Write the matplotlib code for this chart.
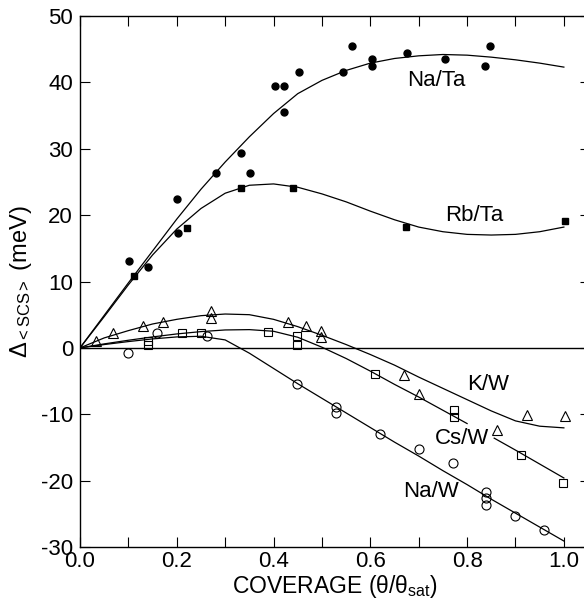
import matplotlib
matplotlib.use("Agg")
import matplotlib.pyplot as plt


OUTPUT_FILE = "out.png"

# measured points (coverage, delta in meV)
na_ta_x = [0.101, 0.141, 0.201, 0.202, 0.282, 0.332, 0.352, 0.402, 0.422, 0.422,
           0.452, 0.543, 0.563, 0.604, 0.604, 0.675, 0.755, 0.836, 0.847]
na_ta_y = [13.1, 12.2, 22.4, 17.3, 26.4, 29.4, 26.4, 39.4, 39.4, 35.5,
           41.5, 41.5, 45.5, 43.5, 42.5, 44.4, 43.5, 42.5, 45.5]

rb_ta_x = [0.111, 0.222, 0.332, 0.441, 0.673, 1.003]
rb_ta_y = [10.9, 18.1, 24.1, 24.1, 18.2, 19.1]

k_w_x = [0.033, 0.068, 0.131, 0.171, 0.271, 0.271, 0.429, 0.468, 0.499, 0.499,
         0.670, 0.700, 0.861, 0.923, 1.002]
k_w_y = [1.0, 2.3, 3.3, 3.9, 5.6, 4.5, 3.9, 3.3, 2.5, 1.6,
         -4.1, -6.9, -12.3, -10.1, -10.3]

cs_w_x = [0.140, 0.140, 0.210, 0.250, 0.389, 0.448, 0.448, 0.610, 0.773, 0.773,
          0.911, 0.999]
cs_w_y = [1.1, 0.4, 2.3, 2.3, 2.4, 1.75, 0.4, -4.0, -9.3, -10.4,
          -16.2, -20.4]

na_w_x = [0.100, 0.160, 0.262, 0.448, 0.529, 0.529, 0.620, 0.700, 0.771, 0.840,
          0.840, 0.840, 0.900, 0.959]
na_w_y = [-0.7, 2.3, 1.75, -5.4, -8.9, -9.8, -13.0, -15.3, -17.3, -21.7,
          -22.6, -23.6, -25.4, -27.5]

# fitted curves
fit_x = [0.0, 0.05, 0.10, 0.15, 0.20, 0.25, 0.30, 0.35, 0.40, 0.45, 0.50,
         0.55, 0.60, 0.65, 0.70, 0.75, 0.80, 0.85, 0.90, 0.95, 1.00]
na_ta_fit = [0, 4.9, 9.8, 14.6, 19.4, 23.9, 28.0, 31.8, 35.3, 38.3, 40.3,
             41.8, 42.9, 43.6, 44.0, 44.2, 44.1, 43.8, 43.4, 42.9, 42.3]
rb_ta_fit = [0, 4.7, 9.5, 14.0, 17.9, 21.0, 23.3, 24.5, 24.7, 24.2, 23.2,
             22.0, 20.6, 19.3, 18.2, 17.5, 17.1, 17.0, 17.1, 17.5, 18.2]
k_w_fit = [0, 1.5, 2.6, 3.6, 4.3, 4.85, 5.1, 5.0, 4.3, 3.2, 1.9,
           0.5, -1.0, -2.6, -4.4, -6.1, -7.8, -9.5, -11.0, -11.8, -12.05]
na_w_fit = [0, 0.5, 0.95, 1.35, 1.65, 1.75, 1.2, -0.8, -3.1, -5.4, -7.6,
            -9.8, -12.0, -14.2, -16.3, -18.5, -20.6, -22.8, -24.9, -27.0, -29.1]

# Cs/W line is broken where its label sits
cs_w_fit_x1 = [0.0, 0.05, 0.10, 0.15, 0.20, 0.25, 0.30, 0.35, 0.40, 0.45,
               0.50, 0.55, 0.60, 0.65, 0.70, 0.75, 0.80]
cs_w_fit_y1 = [0, 0.6, 1.15, 1.65, 2.1, 2.45, 2.7, 2.75, 2.5, 1.6,
               0.1, -1.6, -3.5, -5.5, -7.4, -9.4, -11.4]
cs_w_fit_x2 = [0.856, 0.90, 0.95, 1.00]
cs_w_fit_y2 = [-13.6, -15.4, -17.5, -19.6]

x_ticks = [0.0, 0.1, 0.2, 0.3, 0.4, 0.5, 0.6, 0.7, 0.8, 0.9, 1.0]
x_tick_labels = ["0.0", "", "0.2", "", "0.4", "", "0.6", "", "0.8", "", "1.0"]
y_ticks = [-30, -20, -10, 0, 10, 20, 30, 40, 50]

curve_labels = ["Na/Ta", "Rb/Ta", "K/W", "Cs/W", "Na/W"]
label_x = [0.736, 0.814, 0.843, 0.790, 0.725]
label_y = [40.3, 19.9, -5.45, -13.7, -21.6]


def main():
    plt.rcParams["font.family"] = ["Liberation Sans", "DejaVu Sans"]
    plt.rcParams["mathtext.fontset"] = "custom"
    plt.rcParams["mathtext.rm"] = "Liberation Sans"
    plt.rcParams["mathtext.it"] = "Liberation Sans:italic"
    plt.rcParams["axes.unicode_minus"] = False

    fig = plt.figure(figsize=(5.84, 6.0), dpi=100)
    ax = fig.add_axes([80 / 584, 53 / 600, 510 / 584, 531 / 600])

    line_kw = dict(color="black", linewidth=0.9)
    open_kw = dict(markerfacecolor="none", markeredgecolor="black",
                   markeredgewidth=0.8, linestyle="none")

    ax.axhline(0, color="black", linewidth=1.0)

    ax.plot(fit_x, na_ta_fit, **line_kw)
    ax.plot(fit_x, rb_ta_fit, **line_kw)
    ax.plot(fit_x, k_w_fit, **line_kw)
    ax.plot(fit_x, na_w_fit, **line_kw)
    ax.plot(cs_w_fit_x1, cs_w_fit_y1, **line_kw)
    ax.plot(cs_w_fit_x2, cs_w_fit_y2, **line_kw)

    ax.plot(na_ta_x, na_ta_y, "o", color="black", markersize=5, linestyle="none")
    ax.plot(rb_ta_x, rb_ta_y, "s", color="black", markersize=5, linestyle="none")
    ax.plot(k_w_x, k_w_y, "^", markersize=6.5, **open_kw)
    ax.plot(cs_w_x, cs_w_y, "s", markersize=6, **open_kw)
    ax.plot(na_w_x, na_w_y, "o", markersize=6.5, **open_kw)

    for text, tx, ty in zip(curve_labels, label_x, label_y):
        ax.text(tx, ty, text, fontsize=16, ha="center", va="center")

    ax.set_xlim(0, 1.054)
    ax.set_ylim(-30, 50)

    ax.set_xticks(x_ticks)
    ax.set_xticklabels(x_tick_labels)
    ax.set_yticks(y_ticks)

    ax.tick_params(direction="in", length=7, width=0.8, top=True, right=True,
                   labelsize=16)
    ax.tick_params(axis="x", pad=3)
    ax.tick_params(axis="y", pad=5)

    for spine in ax.spines.values():
        spine.set_linewidth(1.0)

    ax.set_xlabel(r"COVERAGE (θ/θ$_{\mathrm{sat}}$)", fontsize=16.5, labelpad=0.5)
    ax.set_ylabel(r"Δ$_{\mathrm{<SCS>}}$ (meV)", fontsize=17)
    ax.yaxis.set_label_coords(-0.09, 0.5)

    fig.savefig(OUTPUT_FILE, dpi=100)
    plt.close(fig)


if __name__ == "__main__":
    main()
